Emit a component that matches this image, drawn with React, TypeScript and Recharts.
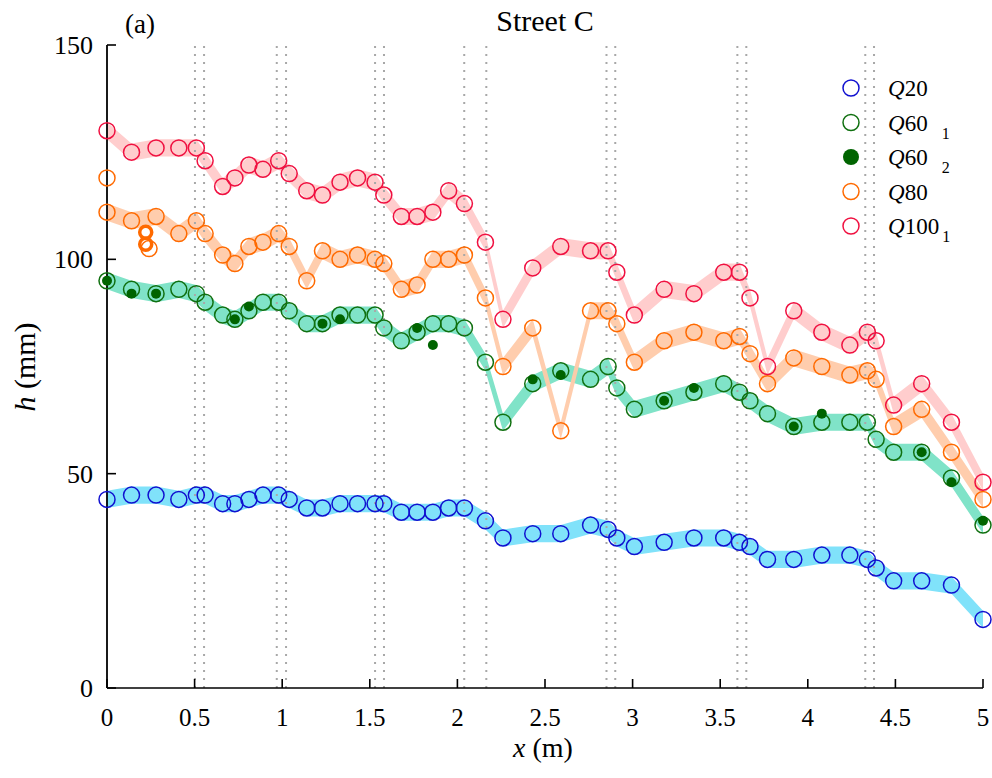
import React from 'react';
import { ComposedChart, Area, Scatter, XAxis, YAxis, ReferenceLine } from 'recharts';

// measurement positions along the street (m)
const xs = [0, 0.14, 0.28, 0.41, 0.51, 0.56, 0.66, 0.73, 0.81, 0.89, 0.98, 1.04, 1.14, 1.23, 1.33, 1.43, 1.53, 1.58, 1.68, 1.77, 1.86, 1.95, 2.04, 2.16, 2.26, 2.43, 2.59, 2.76, 2.86, 2.91, 3.01, 3.18, 3.35, 3.52, 3.61, 3.67, 3.77, 3.92, 4.08, 4.24, 4.34, 4.39, 4.49, 4.65, 4.82, 5.0];

// water depth h (mm)
const q20 = [44, 45, 45, 44, 45, 45, 43, 43, 44, 45, 45, 44, 42, 42, 43, 43, 43, 43, 41, 41, 41, 42, 42, 39, 35, 36, 36, 38, 37, 35, 33, 34, 35, 35, 34, 33, 30, 30, 31, 31, 30, 28, 25, 25, 24, 16];
const q601 = [95, 93, 92, 93, 92, 90, 87, 86, 88, 90, 90, 88, 85, 85, 87, 87, 87, 84, 81, 83, 85, 85, 84, 76, 62, 71, 74, 72, 75, 70, 65, 67, 69, 71, 69, 67, 64, 61, 62, 62, 62, 58, 55, 55, 49, 38];
const q80 = [111, 109, 110, 106, 109, 106, 101, 99, 103, 104, 106, 103, 95, 102, 100, 101, 100, 99, 93, 94, 100, 100, 101, 91, 75, 84, 60, 88, 88, 85, 76, 81, 83, 81, 82, 78, 71, 77, 75, 73, 74, 72, 61, 65, 55, 44];
const q100 = [130, 125, 126, 126, 126, 123, 117, 119, 122, 121, 123, 120, 116, 115, 118, 119, 118, 115, 110, 110, 111, 116, 113, 104, 86, 98, 103, 102, 102, 97, 87, 93, 92, 97, 97, 91, 75, 88, 83, 80, 83, 81, 66, 71, 62, 48];

// second Q60 run, only some positions
const q602X = [0, 0.14, 0.28, 0.73, 0.81, 1.23, 1.33, 1.77, 1.86, 2.43, 2.59, 3.18, 3.35, 3.92, 4.08, 4.65, 4.82, 5.0];
const q602 = [95, 92, 92, 86, 89, 85, 86, 84, 80, 72, 73, 67, 70, 61, 64, 55, 48, 39];

// stray Q80 readings
const q80ExtraX = [0, 0.24];
const q80Extra = [119, 102.5];
const q80BoldX = [0.221, 0.221];
const q80Bold = [106.3, 103.5];

// dotted section markers (m)
const sectionLines = [0.502, 0.554, 0.969, 1.022, 1.53, 1.581, 2.039, 2.165, 2.851, 2.901, 3.598, 3.649, 4.328, 4.378];

const xTicks = [0, 0.5, 1, 1.5, 2, 2.5, 3, 3.5, 4, 4.5, 5];
const yTicks = [0, 50, 100, 150];

const BAND = 2;
const FONT = 'Liberation Serif, serif';

const rows = xs.map((x, i) => ({ x, q20: q20[i], q601: q601[i], q80: q80[i], q100: q100[i] }));
const pts = (xv: number[], yv: number[]) => xv.map((x, i) => ({ x, y: yv[i] }));

const ring = (color: string, r = 8, w = 1.5) => (p: any) =>
  <circle cx={p.cx} cy={p.cy} r={r} fill="none" stroke={color} strokeWidth={w} />;
const dot = (color: string) => (p: any) => <circle cx={p.cx} cy={p.cy} r={5} fill={color} />;

const XTick = (p: any) => (
  <g>
    <line x1={p.x} y1={p.y} x2={p.x} y2={p.y - 9} stroke="#000" strokeWidth={1.6} />
    <text x={p.x} y={p.y + 38} textAnchor="middle" fontSize={25} fontFamily={FONT} fill="#000">{p.payload.value}</text>
  </g>
);

const YTick = (p: any) => (
  <g>
    <line x1={p.x} y1={p.y} x2={p.x + 9} y2={p.y} stroke="#000" strokeWidth={1.6} />
    <text x={p.x - 14} y={p.y + 9} textAnchor="end" fontSize={26} fontFamily={FONT} fill="#000">{p.payload.value}</text>
  </g>
);

const legend = [
  { name: '20', sub: '', gap: 0, color: '#1010d0', fill: false },
  { name: '60', sub: '1', gap: 14, color: '#107010', fill: false },
  { name: '60', sub: '2', gap: 14, color: '#006400', fill: true },
  { name: '80', sub: '', gap: 0, color: '#ff6a00', fill: false },
  { name: '100', sub: '1', gap: 3, color: '#f01040', fill: false },
];

export default function App() {
  return (
    <div style={{ position: 'absolute', left: 0, top: 0, width: 992, height: 778, background: '#fff' }}>
      <ComposedChart width={992} height={778} data={rows} margin={{ top: 45, right: 9, bottom: 0, left: 7 }}>
        <XAxis dataKey="x" type="number" domain={[0, 5]} ticks={xTicks} tickSize={0} tickMargin={0}
          axisLine={{ stroke: '#000', strokeWidth: 1.6 }} tick={<XTick />} height={90} />
        <YAxis type="number" domain={[0, 150]} ticks={yTicks} tickSize={0} tickMargin={0}
          axisLine={{ stroke: '#000', strokeWidth: 1.8 }} tick={<YTick />} width={100} />
        {sectionLines.map((v) => (
          <ReferenceLine key={v} x={v} stroke="#a8a8a8" strokeWidth={2} strokeDasharray="2 6" />
        ))}
        <Area type="linear" dataKey={(d: any) => [d.q20 - BAND, d.q20 + BAND]} stroke="none" fill="#80e2fa" fillOpacity={1} dot={false} activeDot={false} isAnimationActive={false} />
        <Area type="linear" dataKey={(d: any) => [d.q601 - BAND, d.q601 + BAND]} stroke="none" fill="#80e3c8" fillOpacity={1} dot={false} activeDot={false} isAnimationActive={false} />
        <Area type="linear" dataKey={(d: any) => [d.q80 - BAND, d.q80 + BAND]} stroke="none" fill="#ffcaa9" fillOpacity={0.95} dot={false} activeDot={false} isAnimationActive={false} />
        <Area type="linear" dataKey={(d: any) => [d.q100 - BAND, d.q100 + BAND]} stroke="none" fill="#ffcaca" fillOpacity={0.95} dot={false} activeDot={false} isAnimationActive={false} />
        <Scatter data={pts(xs, q20)} dataKey="y" shape={ring('#1010d0')} isAnimationActive={false} />
        <Scatter data={pts(xs, q601)} dataKey="y" shape={ring('#107010')} isAnimationActive={false} />
        <Scatter data={pts(q602X, q602)} dataKey="y" shape={dot('#006400')} isAnimationActive={false} />
        <Scatter data={pts(xs, q80)} dataKey="y" shape={ring('#ff6a00')} isAnimationActive={false} />
        <Scatter data={pts(q80ExtraX, q80Extra)} dataKey="y" shape={ring('#ff6a00')} isAnimationActive={false} />
        <Scatter data={pts(q80BoldX, q80Bold)} dataKey="y" shape={ring('#ff6a00', 6, 3.5)} isAnimationActive={false} />
        <Scatter data={pts(xs, q100)} dataKey="y" shape={ring('#f01040')} isAnimationActive={false} />
      </ComposedChart>
      <svg width={992} height={778} style={{ position: 'absolute', left: 0, top: 0, pointerEvents: 'none' }} fontFamily={FONT}>
        <text x={125} y={33} fontSize={27}>(a)</text>
        <text x={545} y={31} fontSize={30} textAnchor="middle">Street C</text>
        <text x={543} y={757} fontSize={28} textAnchor="middle"><tspan fontStyle="italic">x</tspan> (m)</text>
        <text x={35} y={367} fontSize={30} textAnchor="middle" transform="rotate(-90 35 367)"><tspan fontStyle="italic">h</tspan> (mm)</text>
        {legend.map((l, i) => {
          const cy = 88 + i * 34.5;
          return (
            <g key={i}>
              {l.fill
                ? <circle cx={851} cy={cy} r={8} fill={l.color} />
                : <circle cx={851} cy={cy} r={8} fill="none" stroke={l.color} strokeWidth={1.5} />}
              <text x={888} y={cy + 8} fontSize={23}>
                <tspan fontStyle="italic">Q</tspan>{l.name}
                {l.sub && <tspan fontSize={16} dx={l.gap} dy={8}>{l.sub}</tspan>}
              </text>
            </g>
          );
        })}
      </svg>
    </div>
  );
}
